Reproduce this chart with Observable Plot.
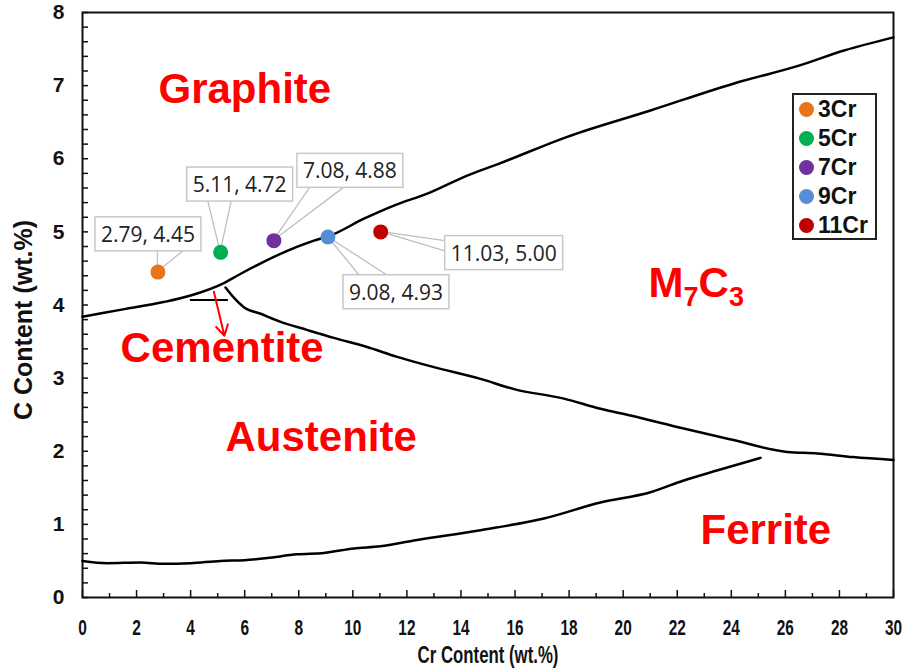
<!DOCTYPE html>
<html><head><meta charset="utf-8">
<script src="https://cdn.jsdelivr.net/npm/d3@7"></script>
<script src="https://cdn.jsdelivr.net/npm/@observablehq/plot@0.6"></script>
<style>
body{margin:0;background:#fff;}
#wrap{position:relative;width:911px;height:669px;}
#legend{position:absolute;left:792px;top:93px;width:81px;height:143px;border:2px solid #222;background:#fff;font:bold 23px "Liberation Sans",Arial,sans-serif;color:#111;}
#legend .item{position:absolute;left:0;height:26px;display:flex;align-items:center;}
#legend .sw{width:15px;height:15px;border-radius:50%;margin-left:5px;margin-right:4px;}
</style></head><body><div id="wrap"></div>
<script>
// ---- data ----
const series = ["3Cr", "5Cr", "7Cr", "9Cr", "11Cr"];
const crContent = [2.79, 5.11, 7.08, 9.08, 11.03];
const cContent = [4.45, 4.72, 4.88, 4.93, 5.00];
const seriesColors = ["#E8731A", "#00B050", "#7030A0", "#558ED5", "#C00000"];

// phase boundaries (Cr wt.%, C wt.%)
const graphiteBoundX = [0, 1.5, 3.0, 4.0, 5.23, 5.72, 7.2, 8.56, 9.17, 10.41, 11.52, 12.8, 14.23, 15.46, 17.93, 21.01, 24.10, 26.56, 28.17, 30];
const graphiteBoundY = [3.84, 3.94, 4.04, 4.13, 4.30, 4.40, 4.68, 4.88, 4.95, 5.18, 5.36, 5.53, 5.77, 5.94, 6.30, 6.66, 7.03, 7.28, 7.48, 7.66];
const austeniteBoundX = [5.29, 5.6, 5.97, 6.59, 7.33, 8.3, 9.3, 10.5, 11.64, 13.0, 14.72, 15.96, 17.81, 19.16, 20.27, 22.24, 24.0, 26.07, 27.18, 28.5, 30];
const austeniteBoundY = [4.24, 4.10, 3.97, 3.88, 3.77, 3.66, 3.55, 3.43, 3.29, 3.15, 2.99, 2.85, 2.72, 2.58, 2.49, 2.31, 2.16, 1.99, 1.97, 1.92, 1.88];
const ferriteBoundX = [0, 0.91, 2.15, 3.0, 4.0, 5.1, 6.0, 6.83, 7.94, 8.93, 10.04, 11.02, 12.26, 14.72, 17.07, 19.16, 21.01, 22.24, 23.5, 25.08];
const ferriteBoundY = [0.50, 0.47, 0.48, 0.46, 0.47, 0.50, 0.51, 0.54, 0.59, 0.61, 0.67, 0.70, 0.78, 0.92, 1.08, 1.30, 1.44, 1.60, 1.74, 1.91];
const cementiteLineX = [4.0, 5.35];
const cementiteLineY = [4.07, 4.07];
const cementiteArrowFrom = [4.86, 4.18];
const cementiteArrowTo = [5.25, 3.58];

// ticks
const xTicks = [0, 2, 4, 6, 8, 10, 12, 14, 16, 18, 20, 22, 24, 26, 28, 30];
const yTicks = [0, 1, 2, 3, 4, 5, 6, 7, 8];
const xTitle = "Cr Content (wt.%)";
const yTitle = "C Content (wt.%)";

// region labels (annotation layout)
const phaseNames = ["Graphite", "Cementite", "Austenite", "Ferrite"];
const phaseAt = [[2.81, 6.94], [1.41, 3.41], [5.29, 2.19], [22.86, 0.91]];
const m7c3At = [20.94, 4.30];

// callout layout (pixel offsets)
const callout = [
  {dx: -10, dy: -37, side: "bottom", a: 0.59, b: 0.83},
  {dx: 19, dy: -67, side: "bottom", a: 0.2, b: 0.42},
  {dx: 76, dy: -69, side: "bottom", a: 0.12, b: 0.44},
  {dx: 68, dy: 56, side: "top", a: 0.15, b: 0.41},
  {dx: 123, dy: 22, side: "left", a: 0.15, b: 0.45}
];

// ---- build ----
const W = 911, H = 669, mL = 82, mR = 18, mT = 12, mB = 72;
const plotW = W - mL - mR, plotH = H - mT - mB;
const boldSans = "'Liberation Sans', Arial, sans-serif";
const pts = series.map((s, i) => ({s, x: crContent[i], y: cContent[i], i}));
const calloutText = pts.map(d => `${d.x.toFixed(2)}, ${d.y.toFixed(2)}`);
const toPts = (X, Y) => X.map((x, i) => ({x, y: Y[i]}));
const lineOpts = {x: "x", y: "y", stroke: "black", strokeWidth: 2.5, curve: "monotone-x"};

const marks = [
  Plot.frame({stroke: "#111", strokeWidth: 2}),
  Plot.line(toPts(graphiteBoundX, graphiteBoundY), lineOpts),
  Plot.line(toPts(austeniteBoundX, austeniteBoundY), lineOpts),
  Plot.line(toPts(ferriteBoundX, ferriteBoundY), lineOpts),
  Plot.line(toPts(cementiteLineX, cementiteLineY), {x: "x", y: "y", stroke: "black", strokeWidth: 2}),
  Plot.arrow([0], {x1: () => cementiteArrowFrom[0], y1: () => cementiteArrowFrom[1], x2: () => cementiteArrowTo[0], y2: () => cementiteArrowTo[1], stroke: "#FF0000", strokeWidth: 2, headLength: 9}),
  Plot.tickY(d3.range(0, 8.001, 0.2), {y: d => d, insetRight: plotW - 6, stroke: "#111", strokeWidth: 1.5}),
  Plot.tickX(xTicks, {x: d => d, insetTop: plotH - 7, stroke: "#111", strokeWidth: 1.5}),
  Plot.tickX(d3.range(1, 30, 2), {x: d => d, insetTop: plotH - 4, stroke: "#111", strokeWidth: 1.5}),
  Plot.axisY(yTicks, {tickSize: 0, tickPadding: 18, fontSize: 21, fontWeight: "bold", fontFamily: boldSans, label: null, tickFormat: d => d}),
  Plot.axisX(xTicks, {tickSize: 0, tickPadding: 22, fontSize: 22, fontWeight: "bold", fontFamily: boldSans, label: null, tickFormat: d => d}),
  Plot.text([xTitle], {frameAnchor: "bottom", lineAnchor: "middle", dy: 58, text: d => d, fontSize: 24, fontWeight: "bold", fontFamily: boldSans, fill: "#111"}),
  Plot.text([yTitle], {frameAnchor: "left", textAnchor: "middle", lineAnchor: "middle", rotate: -90, dx: -59, dy: 15, text: d => d, fontSize: 25, fontWeight: "bold", fontFamily: boldSans, fill: "#111"}),
  Plot.text(phaseNames, {x: (d, i) => phaseAt[i][0], y: (d, i) => phaseAt[i][1], text: d => d, textAnchor: "start", fontSize: 42, fontWeight: "bold", fontFamily: boldSans, fill: "#FF0000"}),
  Plot.text(["M7C3"], {x: () => m7c3At[0], y: () => m7c3At[1], text: d => d, textAnchor: "start", fontSize: 42, fontWeight: "bold", fontFamily: boldSans, fill: "#FF0000"}),
  Plot.dot(pts, {x: "x", y: "y", fill: "s", r: 7.5}),
  ...pts.map((p, i) => Plot.text([p], {x: "x", y: "y", text: () => calloutText[i], dx: callout[i].dx, dy: callout[i].dy, fontSize: 21, fontFamily: "'Open Sans', sans-serif", fill: "#222"}))
];

const plot = Plot.plot({
  width: W, height: H,
  marginLeft: mL, marginRight: mR, marginTop: mT, marginBottom: mB,
  x: {domain: [0, 30]},
  y: {domain: [0, 8]},
  color: {domain: series, range: seriesColors},
  style: {background: "white", color: "#111"},
  marks
});

const wrap = document.getElementById("wrap");
wrap.append(plot);

// legend (inside plot area)
const legend = document.createElement("div");
legend.id = "legend";
series.forEach((s, i) => {
  const it = document.createElement("div");
  it.className = "item";
  it.style.top = (1 + i * 29.2) + "px";
  const sw = document.createElement("span");
  sw.className = "sw";
  sw.style.background = seriesColors[i];
  const tx = document.createElement("span");
  tx.textContent = s;
  it.append(sw, tx);
  legend.append(it);
});
wrap.append(legend);

const svg = d3.select(plot);
const allText = svg.selectAll("text");
const svgRect = plot.getBoundingClientRect();

// condensed look for x tick labels and x title
const xTickStr = xTicks.map(String);
allText.filter(function() {
  const r = this.getBoundingClientRect();
  return (r.top - svgRect.top > H - mB + 5) && (xTickStr.includes(this.textContent) || this.textContent === xTitle);
}).each(function() {
  const w = this.getComputedTextLength();
  this.setAttribute("textLength", (w * 0.7).toFixed(1));
  this.setAttribute("lengthAdjust", "spacingAndGlyphs");
});

// M7C3 subscripts
const mt = allText.filter(function() { return this.textContent === "M7C3"; });
mt.text(null);
mt.append("tspan").text("M");
mt.append("tspan").attr("font-size", 27).attr("dy", 9).text("7");
mt.append("tspan").attr("dy", -9).text("C");
mt.append("tspan").attr("font-size", 27).attr("dy", 9).text("3");

// callout boxes and leader lines
const sx = plot.scale("x"), sy = plot.scale("y");
const dotsNode = svg.select('g[aria-label="dot"]').node();
const under = svg.insert("g", () => dotsNode);
const boxes = svg.append("g");
const calloutNodes = calloutText.map(t => allText.filter(function() { return this.textContent === t; }).node());
calloutNodes.forEach((node, k) => {
  if (!node) return;
  const r = node.getBoundingClientRect();
  const cx = r.left - svgRect.left + r.width / 2;
  const cy = r.top - svgRect.top + r.height / 2;
  const w = r.width + 12, h = 34;
  const left = cx - w / 2, top = cy - h / 2;
  const L = callout[k];
  const px = sx.apply(crContent[k]), py = sy.apply(cContent[k]);
  let ends;
  if (L.side === "bottom") ends = [[left + L.a * w, top + h], [left + L.b * w, top + h]];
  else if (L.side === "top") ends = [[left + L.a * w, top], [left + L.b * w, top]];
  else ends = [[left, top + L.a * h], [left, top + L.b * h]];
  ends.forEach(([ex, ey]) => under.append("line").attr("x1", px).attr("y1", py).attr("x2", ex).attr("y2", ey).attr("stroke", "#bfbfbf").attr("stroke-width", 1.3));
  boxes.append("rect").attr("x", left).attr("y", top).attr("width", w).attr("height", h).attr("fill", "white").attr("stroke", "#c8c8c8").attr("stroke-width", 1.5);
});
// bring callout text groups above boxes
calloutNodes.forEach(node => { if (node) plot.appendChild(node.parentNode); });
</script>
</body></html>
